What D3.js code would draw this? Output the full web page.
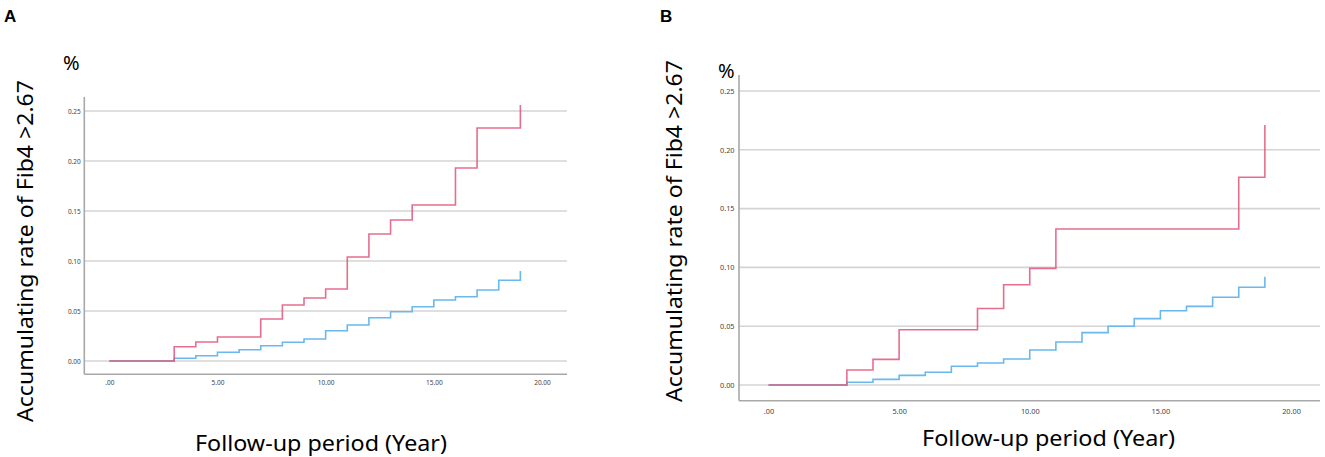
<!DOCTYPE html>
<html>
<head>
<meta charset="utf-8">
<script src="https://cdn.jsdelivr.net/npm/d3@7"></script>
<style>
  html, body { margin: 0; padding: 0; background: #fff; }
  svg { display: block; font-family: "Noto Sans", "Open Sans", sans-serif; }
</style>
</head>
<body>
<svg id="chart" width="1325" height="457"></svg>
<script>
// ---------- data ----------
const yTicks = [0, 0.05, 0.10, 0.15, 0.20, 0.25];
const xTicks = [0, 5, 10, 15, 20];
const yTitle = "Accumulating rate of Fib4 >2.67";
const xTitle = "Follow-up period (Year)";
const panelLabels = ["A", "B"];

// Panel A
const aRedYears  = [0, 3, 4, 5, 7, 8, 9, 10, 11, 12, 13, 14, 16, 17, 19];
const aRedRates  = [0, 0.0143, 0.019, 0.024, 0.042, 0.056, 0.063, 0.072, 0.104, 0.127, 0.141, 0.156, 0.193, 0.233, 0.256];
const aBlueYears = [0, 3, 4, 5, 6, 7, 8, 9, 10, 11, 12, 13, 14, 15, 16, 17, 18, 19];
const aBlueRates = [0, 0.0027, 0.0053, 0.0087, 0.0113, 0.0153, 0.0187, 0.022, 0.0303, 0.036, 0.0433, 0.0493, 0.0543, 0.061, 0.0643, 0.071, 0.0807, 0.09];

// Panel B
const bRedYears  = [0, 3, 4, 5, 8, 9, 10, 11, 18, 19];
const bRedRates  = [0, 0.0128, 0.0218, 0.047, 0.065, 0.0853, 0.0992, 0.1327, 0.1766, 0.221];
const bBlueYears = [0, 3, 4, 5, 6, 7, 8, 9, 10, 11, 12, 13, 14, 15, 16, 17, 18, 19];
const bBlueRates = [0, 0.0023, 0.0048, 0.0082, 0.0108, 0.0159, 0.0187, 0.0221, 0.0298, 0.0366, 0.0445, 0.0499, 0.0564, 0.0632, 0.0669, 0.0746, 0.0831, 0.0921];

// ---------- layout ----------
const panels = [
  { label: panelLabels[0], labelX: 4, labelY: 22,
    x0: 109.3, x20: 542, y0: 361, y25: 111,
    axisLeft: 84.3, axisRight: 567, axisTop: 97, axisBottom: 374.3,
    tickFont: 6.5, yTickGap: 3.5, xTickTop: 380.8,
    pctX: 63, pctY: 70,
    yTitleX: 33, yTitleY: 251, yTitleLen: 342,
    xTitleX: 321, xTitleY: 451, xTitleLen: 252,
    red: [aRedYears, aRedRates], blue: [aBlueYears, aBlueRates] },
  { label: panelLabels[1], labelX: 660, labelY: 22,
    x0: 768.5, x20: 1291, y0: 385, y25: 91,
    axisLeft: 739, axisRight: 1320, axisTop: 75, axisBottom: 400.7,
    tickFont: 7.3, yTickGap: 4.5, xTickTop: 408.9,
    pctX: 718, pctY: 78,
    yTitleX: 682, yTitleY: 231, yTitleLen: 342,
    xTitleX: 1048.5, xTitleY: 446, xTitleLen: 253,
    red: [bRedYears, bRedRates], blue: [bBlueYears, bBlueRates] }
];

const svg = d3.select("#chart");
const redColor = "#e0557a";
const blueColor = "#6ab8ec";

const xFmt = d => d === 0 ? ".00" : d.toFixed(2);
const yFmt = d3.format(".2f");

panels.forEach(p => {
  const g = svg.append("g");
  const x = d3.scaleLinear().domain([0, 20]).range([p.x0, p.x20]);
  const y = d3.scaleLinear().domain([0, 0.25]).range([p.y0, p.y25]);

  // gridlines
  g.append("g").selectAll("line").data(yTicks).join("line")
    .attr("x1", p.axisLeft).attr("x2", p.axisRight)
    .attr("y1", d => y(d)).attr("y2", d => y(d))
    .attr("stroke", "#d4d4d4").attr("stroke-width", 1.6);

  // y axis
  const ya = g.append("g").attr("transform", `translate(${p.axisLeft},0)`)
    .call(d3.axisLeft(y).tickValues(yTicks).tickFormat(yFmt).tickSize(0).tickPadding(p.yTickGap));
  ya.select(".domain").remove();
  ya.selectAll("text").attr("font-size", p.tickFont).attr("fill", "#444")
    .attr("font-family", "'Noto Sans', sans-serif");
  g.append("line").attr("x1", p.axisLeft).attr("x2", p.axisLeft)
    .attr("y1", p.axisTop).attr("y2", p.axisBottom)
    .attr("stroke", "#a8a8a8").attr("stroke-width", 1.6);

  // x axis
  const xa = g.append("g").attr("transform", `translate(0,${p.axisBottom})`)
    .call(d3.axisBottom(x).tickValues(xTicks).tickFormat(xFmt).tickSize(0).tickPadding(p.xTickTop - p.axisBottom));
  xa.select(".domain").remove();
  xa.selectAll("text").attr("font-size", p.tickFont).attr("fill", "#444")
    .attr("font-family", "'Noto Sans', sans-serif");
  g.append("line").attr("x1", p.axisLeft).attr("x2", p.axisRight)
    .attr("y1", p.axisBottom).attr("y2", p.axisBottom)
    .attr("stroke", "#a8a8a8").attr("stroke-width", 1.6);

  // step lines
  const line = d3.line().curve(d3.curveStepAfter)
    .x(d => x(d[0])).y(d => y(d[1]));
  const blueData = p.blue[0].map((t, i) => [t, p.blue[1][i]]);
  const redData = p.red[0].map((t, i) => [t, p.red[1][i]]);
  g.append("path").datum(blueData).attr("d", line)
    .attr("fill", "none").attr("stroke", blueColor).attr("stroke-width", 1.6);
  g.append("path").datum(redData).attr("d", line)
    .attr("fill", "none").attr("stroke", redColor).attr("stroke-width", 1.6)
    .attr("stroke-opacity", 0.85);

  // panel label
  svg.append("text").attr("x", p.labelX).attr("y", p.labelY)
    .attr("font-size", 17).attr("font-weight", "bold").attr("fill", "#000")
    .attr("font-family", "'Liberation Sans', Arial, sans-serif")
    .text(p.label);

  // % unit
  svg.append("text").attr("x", p.pctX).attr("y", p.pctY)
    .attr("font-size", 20).attr("fill", "#000")
    .text("%");

  // y title
  svg.append("text")
    .attr("transform", `translate(${p.yTitleX},${p.yTitleY}) rotate(-90)`)
    .attr("text-anchor", "middle").attr("font-size", 22).attr("fill", "#000")
    .attr("textLength", p.yTitleLen).attr("lengthAdjust", "spacingAndGlyphs")
    .text(yTitle);

  // x title
  svg.append("text")
    .attr("x", p.xTitleX).attr("y", p.xTitleY)
    .attr("text-anchor", "middle").attr("font-size", 22).attr("fill", "#000")
    .attr("textLength", p.xTitleLen).attr("lengthAdjust", "spacingAndGlyphs")
    .text(xTitle);
});
</script>
</body>
</html>
